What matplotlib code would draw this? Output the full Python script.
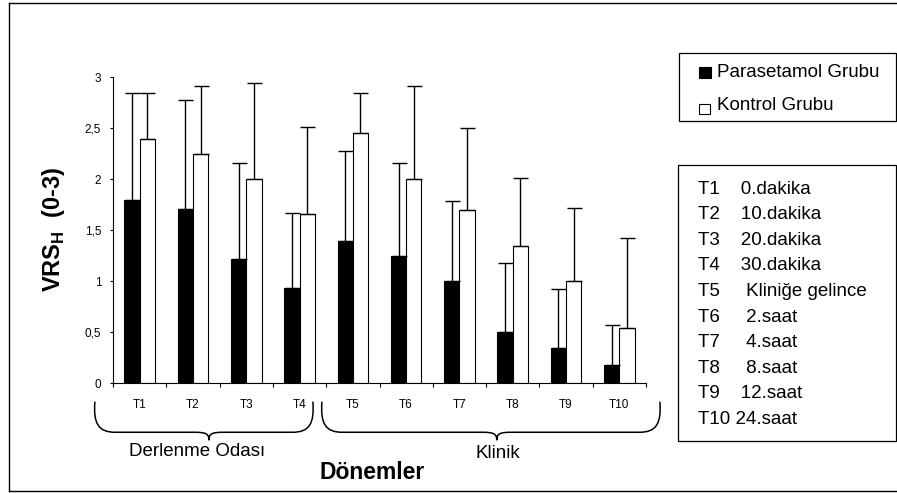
import numpy as np
import matplotlib
matplotlib.use("Agg")
import matplotlib.pyplot as plt
from matplotlib.patches import Rectangle, PathPatch
from matplotlib.path import Path
from matplotlib.lines import Line2D
import matplotlib.transforms as mtransforms

plt.rcParams['font.family'] = ['Liberation Sans', 'DejaVu Sans']
plt.rcParams['mathtext.fontset'] = 'custom'
plt.rcParams['mathtext.rm'] = 'Liberation Sans'
plt.rcParams['mathtext.bf'] = 'Liberation Sans:bold'

# ---------------- data ----------------
categories = ["T1", "T2", "T3", "T4", "T5", "T6", "T7", "T8", "T9", "T10"]
parasetamol = [1.80, 1.71, 1.22, 0.93, 1.40, 1.25, 1.00, 0.50, 0.35, 0.18]
parasetamol_sd = [1.05, 1.07, 0.94, 0.74, 0.88, 0.91, 0.79, 0.68, 0.57, 0.39]
kontrol = [2.40, 2.25, 2.00, 1.66, 2.45, 2.00, 1.70, 1.35, 1.00, 0.54]
kontrol_sd = [0.45, 0.66, 0.94, 0.85, 0.40, 0.91, 0.80, 0.66, 0.72, 0.88]
y_ticks = [0, 0.5, 1, 1.5, 2, 2.5, 3]
y_tick_labels = ["0", "0,5", "1", "1,5", "2", "2,5", "3"]
series_names = ["Parasetamol Grubu", "Kontrol Grubu"]
period_legend = ["T1    0.dakika", "T2    10.dakika", "T3    20.dakika",
                 "T4    30.dakika", "T5     Kliniğe gelince", "T6     2.saat",
                 "T7     4.saat", "T8     8.saat", "T9    12.saat", "T10 24.saat"]
groups = ["Derlenme Odası", "Klinik"]
x_label = "Dönemler"
y_label = r"VRS$_\mathbf{H}$  (0-3)"

# ---------------- figure ----------------
W, H = 897, 493
fig = plt.figure(figsize=(W / 100, H / 100), dpi=100)


def fx(px):
    return px / W


def fy(py):
    return 1 - py / H


ax = fig.add_axes([fx(113), fy(383.3), 533 / W, 306 / H])

x = np.arange(len(categories))
bw = 0.287
ax.bar(x - bw / 2, parasetamol, bw, color="black", edgecolor="black", lw=0.8, zorder=2)
ax.bar(x + bw / 2, kontrol, bw, color="white", edgecolor="black", lw=0.8, zorder=2)
ax.errorbar(x - bw / 2, parasetamol, yerr=[np.zeros(len(x)), parasetamol_sd],
            fmt="none", ecolor="black", elinewidth=1.0, capsize=5.4, capthick=1.0, zorder=3)
ax.errorbar(x + bw / 2, kontrol, yerr=[np.zeros(len(x)), kontrol_sd],
            fmt="none", ecolor="black", elinewidth=1.0, capsize=5.4, capthick=1.0, zorder=3)

ax.set_xlim(-0.5, len(categories) - 0.5)
ax.set_ylim(0, 3)
for s in ["top", "right"]:
    ax.spines[s].set_visible(False)
for s in ["left", "bottom"]:
    ax.spines[s].set_linewidth(0.8)

ax.set_yticks(y_ticks)
ax.set_yticklabels(y_tick_labels)
ax.set_xticks(np.arange(-0.5, len(categories), 1.0))
ax.set_xticklabels([])
ax.set_xticks(x, minor=True)
ax.set_xticklabels(categories, minor=True)
ax.tick_params(axis="x", which="major", length=3, width=0.8, direction="out")
ax.tick_params(axis="x", which="minor", length=0, pad=11.5, labelsize=8.5)
ax.tick_params(axis="y", length=2.5, width=0.8, pad=6, labelsize=8.5)

# ---------------- braces ----------------
tr = mtransforms.blended_transform_factory(ax.transData, ax.transAxes)


def brace(x0, x1, xm, yt=-0.060, yb=-0.160, ytip=-0.186, r=0.38, rt=0.28):
    verts = [(x0, yt),
             (x0 - 0.03, yb + 0.03), (x0 + 0.06, yb), (x0 + r, yb),
             (xm - rt, yb),
             (xm - 0.05, yb), (xm, yb - 0.005), (xm, ytip),
             (xm, yb - 0.005), (xm + 0.05, yb), (xm + rt, yb),
             (x1 - r, yb),
             (x1 - 0.06, yb), (x1 + 0.03, yb + 0.03), (x1, yt)]
    codes = [Path.MOVETO,
             Path.CURVE4, Path.CURVE4, Path.CURVE4,
             Path.LINETO,
             Path.CURVE4, Path.CURVE4, Path.CURVE4,
             Path.CURVE4, Path.CURVE4, Path.CURVE4,
             Path.LINETO,
             Path.CURVE4, Path.CURVE4, Path.CURVE4]
    p = PathPatch(Path(verts, codes), transform=tr, fill=False,
                  edgecolor="black", lw=1.1, clip_on=False)
    ax.add_patch(p)


brace(-0.84, 3.25, 1.30)
brace(3.42, 9.76, 6.70)

ax.text(1.08, -0.2245, groups[0], transform=tr, ha="center", va="center", fontsize=13.5)
ax.text(6.72, -0.228, groups[1], transform=tr, ha="center", va="center", fontsize=13.5)
ax.text(4.36, -0.293, x_label, transform=tr, ha="center", va="center",
        fontsize=16.5, fontweight="bold")

fig.text(fx(53.5), fy(229), y_label, rotation=90, ha="center", va="center",
         fontsize=17, fontweight="bold")

# ---------------- legend boxes ----------------
fig.patches.append(Rectangle((fx(679), fy(121)), (896 - 679) / W, (121 - 53) / H,
                             transform=fig.transFigure, fill=False, edgecolor="black", lw=0.9))
fig.patches.append(Rectangle((fx(699), fy(77.5)), 12 / W, 11 / H,
                             transform=fig.transFigure, facecolor="black", edgecolor="black", lw=0.8))
fig.patches.append(Rectangle((fx(699), fy(114)), 10.5 / W, 10.5 / H,
                             transform=fig.transFigure, facecolor="white", edgecolor="black", lw=0.8))
fig.text(fx(716.5), fy(76.7), series_names[0], ha="left", va="baseline", fontsize=13.5)
fig.text(fx(716.5), fy(109.5), series_names[1], ha="left", va="baseline", fontsize=13.5)

fig.patches.append(Rectangle((fx(678), fy(441)), (896 - 678) / W, (441 - 165) / H,
                             transform=fig.transFigure, fill=False, edgecolor="black", lw=0.9))
for i, s in enumerate(period_legend):
    fig.text(fx(698), fy(193.5 + i * 25.6), s, ha="left", va="baseline", fontsize=13.5)

# ---------------- outer frame ----------------
for (xa, ya), (xb, yb_) in [((9, 2.5), (9, 491)), ((9, 2.5), (900, 2.5)), ((9, 491), (900, 491))]:
    fig.add_artist(Line2D([fx(xa), fx(xb)], [fy(ya), fy(yb_)], transform=fig.transFigure,
                          color="black", lw=1.0))

fig.savefig("out.png", dpi=100, facecolor="white")
